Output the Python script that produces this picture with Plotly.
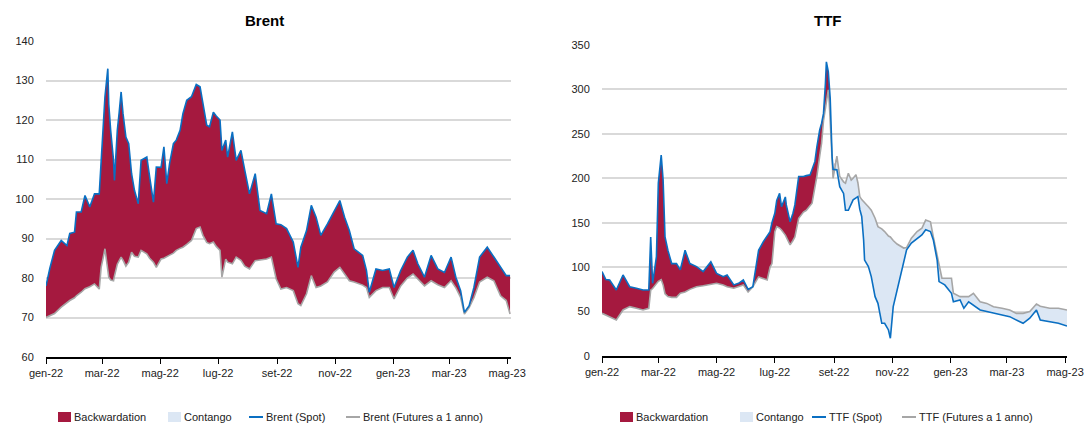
import plotly.graph_objects as go

# ---------------- data ----------------
brent_dates = [
    "2022-01-01", "2022-01-05", "2022-01-10", "2022-01-17", "2022-01-23", "2022-01-26", "2022-01-31",
    "2022-02-02", "2022-02-07", "2022-02-11", "2022-02-16", "2022-02-21", "2022-02-26", "2022-02-28",
    "2022-03-02", "2022-03-04", "2022-03-07", "2022-03-08", "2022-03-10", "2022-03-13", "2022-03-14",
    "2022-03-17", "2022-03-19", "2022-03-21", "2022-03-23", "2022-03-26", "2022-03-29", "2022-04-01",
    "2022-04-04", "2022-04-08", "2022-04-11", "2022-04-17", "2022-04-20", "2022-04-24", "2022-04-27",
    "2022-05-02", "2022-05-05", "2022-05-08", "2022-05-11", "2022-05-15", "2022-05-18", "2022-05-22",
    "2022-05-25", "2022-05-29", "2022-06-03", "2022-06-08", "2022-06-12", "2022-06-15", "2022-06-19",
    "2022-06-22", "2022-06-26", "2022-06-29", "2022-07-03", "2022-07-05", "2022-07-09", "2022-07-11",
    "2022-07-16", "2022-07-20", "2022-07-25", "2022-07-29", "2022-08-03", "2022-08-09", "2022-08-14",
    "2022-08-21", "2022-08-26", "2022-08-31", "2022-09-05", "2022-09-11", "2022-09-18", "2022-09-23",
    "2022-09-26", "2022-10-02", "2022-10-07", "2022-10-12", "2022-10-17", "2022-10-24", "2022-10-31",
    "2022-11-06", "2022-11-11", "2022-11-16", "2022-11-21", "2022-11-30", "2022-12-04", "2022-12-07",
    "2022-12-14", "2022-12-21", "2022-12-28", "2023-01-02", "2023-01-09", "2023-01-16", "2023-01-22",
    "2023-01-27", "2023-02-03", "2023-02-10", "2023-02-17", "2023-02-24", "2023-03-03", "2023-03-08",
    "2023-03-13", "2023-03-17", "2023-03-22", "2023-03-27", "2023-04-02", "2023-04-10", "2023-04-17",
    "2023-04-24", "2023-04-30", "2023-05-04",
]
brent_spot = [
    78, 82.4, 87, 89.5, 88.2, 91.3, 91.6,
    96.7, 96.7, 100.9, 98, 101.3, 101.3, 109.8,
    119, 125.9, 133, 124, 117.4, 109.8, 104.7,
    117.4, 122, 127.1, 121.6, 115.7, 114, 106.4,
    102.2, 98.8, 109.8, 110.6, 105.6, 99.2, 108.1,
    108, 113.2, 103.9, 109, 114, 114.9, 117.4,
    121.6, 125, 125.9, 129, 128.4, 124.2, 118.7,
    118.3, 122, 121, 120, 112.3, 114.9, 110.6,
    117, 109.8, 112.3, 107.3, 101.3, 106.4, 97.1,
    96.3, 101.3, 93.7, 93.5, 92.5, 89.1, 82.7,
    87.8, 92, 98.4, 95.4, 90.8, 93.7, 97.1,
    99.6, 95.4, 92, 87.4, 85.7, 81.9, 76.4,
    82.3, 81.9, 82.3, 77.6, 81.9, 85.3, 87,
    83.6, 80.2, 85.7, 82.3, 81.4, 85.3, 80.2,
    76.8, 71.3, 73, 77.6, 85.3, 87.8, 85.3,
    82.7, 80.6, 80.6,
]
brent_fut = [
    70, 70.5, 71, 72.6, 73.8, 74.3, 75,
    75.5, 76.4, 77.3, 77.8, 78.5, 77.2, 82.7,
    85, 87.4, 82, 80.2, 79.5, 79.3, 80.5,
    83.5, 84.4, 85.3, 84.5, 83, 84, 86.5,
    85.5, 85.3, 87, 86.1, 85, 84, 82.7,
    84.8, 85, 85.3, 85.8, 86.3, 87, 87.5,
    87.8, 88.5, 89.5, 92.5, 92.9, 90.8, 89,
    88.7, 89.1, 88, 87, 80.2, 84.8, 84,
    83.6, 85.3, 84.5, 83, 82.3, 84.4, 84.6,
    84.8, 85.3, 79.8, 77.2, 77.6, 76.8, 73.5,
    73, 76, 80.6, 77.6, 78, 79, 81.5,
    82.7, 81, 79.3, 79, 78.2, 77.6, 75.1,
    76.8, 77.6, 77.6, 74.7, 78, 80, 81,
    79.8, 78, 79.3, 78.3, 77.6, 79.3, 77.5,
    75.1, 70.9, 72.5, 75, 79, 80.2, 79.3,
    75.5, 74.3, 70.9,
]

ttf_dates = [
    "2022-01-01", "2022-01-05", "2022-01-09", "2022-01-16", "2022-01-23", "2022-01-30", "2022-02-06",
    "2022-02-13", "2022-02-19", "2022-02-21", "2022-02-23", "2022-02-27", "2022-03-01", "2022-03-04",
    "2022-03-06", "2022-03-08", "2022-03-11", "2022-03-15", "2022-03-20", "2022-03-24", "2022-03-29",
    "2022-04-03", "2022-04-10", "2022-04-17", "2022-04-25", "2022-05-01", "2022-05-08", "2022-05-12",
    "2022-05-19", "2022-05-24", "2022-05-29", "2022-06-03", "2022-06-08", "2022-06-14", "2022-06-19",
    "2022-06-23", "2022-06-26", "2022-06-28", "2022-07-01", "2022-07-03", "2022-07-06", "2022-07-08",
    "2022-07-12", "2022-07-13", "2022-07-17", "2022-07-20", "2022-07-22", "2022-07-26", "2022-07-31",
    "2022-08-03", "2022-08-07", "2022-08-09", "2022-08-12", "2022-08-14", "2022-08-17", "2022-08-19",
    "2022-08-21", "2022-08-23", "2022-08-24", "2022-08-26", "2022-08-27", "2022-08-28", "2022-08-30",
    "2022-08-31", "2022-09-04", "2022-09-07", "2022-09-11", "2022-09-13", "2022-09-16", "2022-09-19",
    "2022-09-21", "2022-09-24", "2022-09-26", "2022-09-28", "2022-09-30", "2022-10-02", "2022-10-03",
    "2022-10-07", "2022-10-10", "2022-10-14", "2022-10-17", "2022-10-21", "2022-10-24", "2022-10-28",
    "2022-10-30", "2022-11-02", "2022-11-06", "2022-11-09", "2022-11-13", "2022-11-16", "2022-11-21",
    "2022-11-27", "2022-12-02", "2022-12-06", "2022-12-11", "2022-12-14", "2022-12-18", "2022-12-20",
    "2022-12-23", "2022-12-26", "2023-01-02", "2023-01-04", "2023-01-11", "2023-01-15", "2023-01-20",
    "2023-01-25", "2023-02-01", "2023-02-08", "2023-02-15", "2023-02-24", "2023-03-04", "2023-03-11",
    "2023-03-18", "2023-03-25", "2023-04-01", "2023-04-05", "2023-04-15", "2023-04-24", "2023-05-03",
]
ttf_spot = [
    95, 86, 85.6, 74.3, 91.2, 78, 76.2,
    74.3, 74.3, 134, 81.8, 111.8, 194.5, 226,
    198, 134, 119, 104, 104, 97, 119,
    104, 100.6, 95, 106, 93, 89.3, 91.2,
    80, 81.8, 85.6, 75, 78, 119, 128.7,
    135, 140, 150, 160.6, 175, 183, 168,
    179, 170, 151, 160.6, 170, 202, 202,
    203, 204, 210, 219, 235, 254.5, 262,
    273, 307, 331, 320, 307, 290, 224,
    210, 209.5, 190.6, 183, 164, 164, 170,
    175.7, 178, 179.4, 165, 157, 130.6, 108,
    100.6, 89.3, 66.8, 59.3, 36.8, 36.8, 29.3,
    20, 55.5, 74.3, 89.3, 108, 119.4, 127,
    132.5, 136.3, 142, 140, 130.6, 108, 83.7,
    82, 80, 70.6, 61, 63, 53.7, 61,
    57.4, 51.8, 50, 48, 46.2, 44.3, 40.5,
    36.8, 42.5, 51.8, 40.5, 38.7, 36.8, 33.8,
]
ttf_fut = [
    48, 46, 44.3, 40.5, 51.8, 55.6, 53.7,
    51.8, 53.7, 74, 76, 82, 84, 86,
    80, 70, 67, 66, 66, 70.6, 72,
    75, 78, 79, 81, 81.8, 80, 78,
    76.2, 78, 80, 72, 78, 89, 87,
    85.6, 100, 104, 140, 145.6, 144, 141.9,
    136, 134, 125, 130, 134, 155, 162,
    164, 170, 172, 190, 202, 225, 239.5,
    265, 280.7, 290, 299.5, 285, 265.8, 217,
    200, 225, 202, 196, 194.5, 205.7, 198,
    200, 204, 195, 179.4, 176, 174, 172,
    168, 164, 155, 145.6, 143, 140, 135,
    134, 130, 126, 124, 121.5, 122, 132.5,
    140, 143.8, 153, 151, 134, 112, 100,
    87.5, 87.5, 87.5, 70.6, 66.8, 67, 66.8,
    70.6, 61, 59.2, 55.5, 53.7, 51.8, 48,
    48, 50, 58.5, 56, 53.7, 53.7, 51.8,
]

tick_dates = ["2022-01-01", "2022-03-01", "2022-05-01", "2022-07-01", "2022-09-01",
              "2022-11-01", "2023-01-01", "2023-03-01", "2023-05-01"]
tick_labels = ["gen-22", "mar-22", "mag-22", "lug-22", "set-22",
               "nov-22", "gen-23", "mar-23", "mag-23"]

brent_yticks = [60, 70, 80, 90, 100, 110, 120, 130, 140]
ttf_yticks = [0, 50, 100, 150, 200, 250, 300, 350]

titles = ["Brent", "TTF"]
legend_left = ["Backwardation", "Contango", "Brent (Spot)", "Brent (Futures a 1 anno)"]
legend_right = ["Backwardation", "Contango", "TTF (Spot)", "TTF (Futures a 1 anno)"]

# ---------------- styles ----------------
W, H = 1088, 426
CRIMSON = "#A5193F"
LIGHTBLUE = "#DCE7F4"
BLUE = "#0A6FC2"
GREY = "#A6A6A6"
GRID = "#D9D9D9"
FONT = "Liberation Sans Narrow, Arial Narrow, Liberation Sans, Arial, sans-serif"
TXT = "#222222"


def px_x(x):
    return x / W


def px_y(y):
    return 1 - y / H


fig = go.Figure()


def add_panel(x, spot, fut, xa, ya):
    upper = [max(s, f) for s, f in zip(spot, fut)]
    common = dict(x=x, mode="lines", hoverinfo="skip", showlegend=False, xaxis=xa, yaxis=ya)
    # backwardation: between futures and spot where spot > futures
    fig.add_trace(go.Scatter(y=fut, line=dict(width=0, color=CRIMSON), **common))
    fig.add_trace(go.Scatter(y=upper, line=dict(width=0, color=CRIMSON), fill="tonexty",
                             fillcolor=CRIMSON, **common))
    # contango: between spot and futures where futures > spot
    fig.add_trace(go.Scatter(y=spot, line=dict(width=0, color=LIGHTBLUE), **common))
    fig.add_trace(go.Scatter(y=upper, line=dict(width=0, color=LIGHTBLUE), fill="tonexty",
                             fillcolor=LIGHTBLUE, **common))
    fig.add_trace(go.Scatter(y=fut, line=dict(width=1.6, color=GREY), **common))
    fig.add_trace(go.Scatter(y=spot, line=dict(width=1.6, color=BLUE), **common))


add_panel(brent_dates, brent_spot, brent_fut, "x", "y")
add_panel(ttf_dates, ttf_spot, ttf_fut, "x2", "y2")

xcommon = dict(
    type="date", tickmode="array", tickvals=tick_dates, ticktext=tick_labels,
    showline=True, linecolor="#000000", linewidth=1.5, ticks="outside", ticklen=5,
    tickwidth=1.2, tickcolor="#000000", showgrid=False, zeroline=False, automargin=False,
    tickfont=dict(family=FONT, size=11, color=TXT),
)
ycommon = dict(
    showline=False, showgrid=True, gridcolor=GRID, gridwidth=1.5, zeroline=False,
    ticks="outside", ticklen=9, tickcolor="rgba(0,0,0,0)", tickmode="array", automargin=False,
    tickfont=dict(family=FONT, size=11, color=TXT),
)

fig.update_layout(
    width=W, height=H, margin=dict(l=0, r=0, t=0, b=0, autoexpand=False),
    paper_bgcolor="white", plot_bgcolor="white", showlegend=False,
    xaxis=dict(domain=[px_x(46), px_x(511)], range=["2022-01-01", "2023-05-05"],
               anchor="y", **xcommon),
    yaxis=dict(domain=[px_y(357), px_y(41)], range=[60, 140], anchor="x",
               tickvals=brent_yticks, **ycommon),
    xaxis2=dict(domain=[px_x(602), px_x(1067)], range=["2022-01-01", "2023-05-03"],
                anchor="y2", **xcommon),
    yaxis2=dict(domain=[px_y(356), px_y(45)], range=[0, 350], anchor="x2",
                tickvals=ttf_yticks, **ycommon),
)

# titles
for text, cx in zip(titles, [264, 828]):
    fig.add_annotation(text="<b>" + text + "</b>", x=px_x(cx), y=px_y(20), xref="paper", yref="paper",
                       showarrow=False, xanchor="center", yanchor="middle",
                       font=dict(family=FONT, size=15, color="#000000"))

# manual legends
shapes = []
LEG_Y = 417


def add_legend(labels, sq1, sq2, ln1, ln2):
    items = [("box", CRIMSON, sq1), ("box", LIGHTBLUE, sq2), ("line", BLUE, ln1), ("line", GREY, ln2)]
    for (kind, color, x0), label in zip(items, labels):
        if kind == "box":
            shapes.append(dict(type="rect", xref="paper", yref="paper",
                               x0=px_x(x0), x1=px_x(x0 + 13), y0=px_y(LEG_Y + 5), y1=px_y(LEG_Y - 5),
                               fillcolor=color, line=dict(width=0)))
            tx = x0 + 14
        else:
            shapes.append(dict(type="line", xref="paper", yref="paper",
                               x0=px_x(x0), x1=px_x(x0 + 14), y0=px_y(LEG_Y), y1=px_y(LEG_Y),
                               line=dict(color=color, width=2)))
            tx = x0 + 15
        fig.add_annotation(text=label, x=px_x(tx), y=px_y(LEG_Y), xref="paper", yref="paper",
                           showarrow=False, xanchor="left", yanchor="middle",
                           font=dict(family=FONT, size=11, color=TXT))


add_legend(legend_left, 58, 168, 249, 346)
add_legend(legend_right, 620, 740, 812, 902)
fig.update_layout(shapes=shapes)

fig.write_html("out.html", config={"displayModeBar": False},
               post_script="document.body.style.margin='0px';document.body.style.overflow='hidden';")
